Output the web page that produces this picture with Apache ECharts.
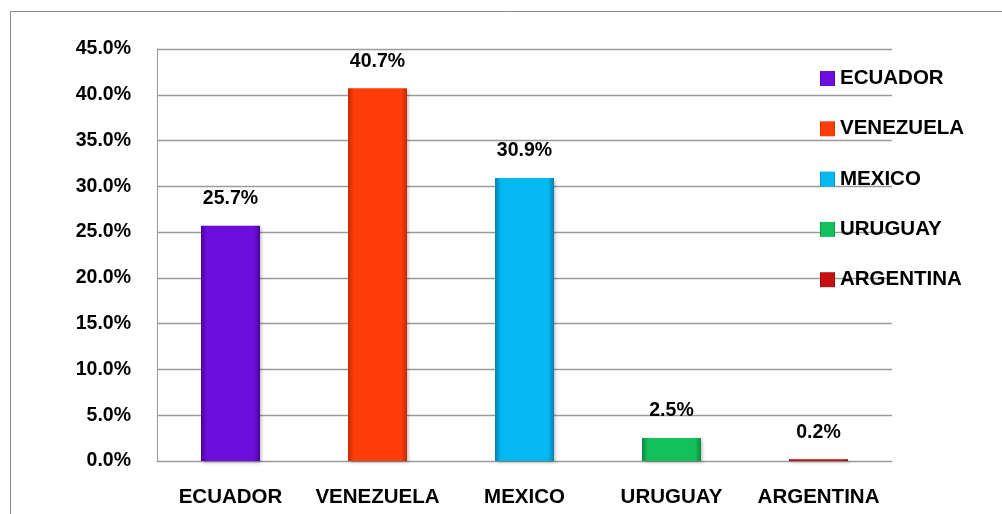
<!DOCTYPE html>
<html>
<head>
<meta charset="utf-8">
<script src="https://cdn.jsdelivr.net/npm/echarts@6/dist/echarts.min.js"></script>
<style>
  html, body { margin: 0; padding: 0; background: #ffffff; }
  #chart { width: 1002px; height: 514px; }
</style>
</head>
<body>
<div id="chart"></div>
<script>
// Share of respondents by country (percent)
const countries = ['ECUADOR', 'VENEZUELA', 'MEXICO', 'URUGUAY', 'ARGENTINA'];
const shares = [25.7, 40.7, 30.9, 2.5, 0.2];
const yTicks = { min: 0, max: 45, step: 5 };

// Base colour and darker edge colour for each country's bar
const barColors = [
  ['#6c0fdc', '#4a0399'],
  ['#ff3d08', '#c42a00'],
  ['#05b8f2', '#0382b0'],
  ['#13c15c', '#0a8a3e'],
  ['#c41010', '#8a0606']
];

function bevel(pair) {
  return new echarts.graphic.LinearGradient(0, 0, 1, 0, [
    { offset: 0, color: pair[1] },
    { offset: 0.1, color: pair[0] },
    { offset: 0.9, color: pair[0] },
    { offset: 1, color: pair[1] }
  ]);
}

const FONT = '"Liberation Sans", Arial, sans-serif';

// One series per country so each gets its own legend entry; stacking keeps bars centred
const series = countries.map((name, i) => ({
  name: name,
  type: 'bar',
  stack: 'all',
  barWidth: 59,
  data: shares.map((v, j) => (j === i ? v : null)),
  itemStyle: {
    color: bevel(barColors[i]),
    shadowColor: 'rgba(0,0,0,0.25)',
    shadowBlur: 3,
    shadowOffsetX: 1.5,
    shadowOffsetY: 1.5
  },
  label: {
    show: true,
    position: 'top',
    distance: 17,
    formatter: p => p.value.toFixed(1) + '%',
    color: '#000',
    fontFamily: FONT,
    fontWeight: 'bold',
    fontSize: 19.5
  }
}));

const chart = echarts.init(document.getElementById('chart'), null, { renderer: 'canvas' });
chart.setOption({
  animation: false,
  backgroundColor: '#ffffff',
  graphic: [{
    type: 'rect',
    shape: { x: 10.5, y: 11.5, width: 1200, height: 800 },
    style: { fill: 'none', stroke: '#8c8c8c', lineWidth: 1 },
    silent: true,
    z: -1
  }],
  grid: { left: 157, top: 49, right: 110, bottom: 53, containLabel: false },
  legend: {
    orient: 'vertical',
    left: 820,
    top: 68,
    padding: 0,
    itemWidth: 15,
    itemHeight: 15,
    itemGap: 29.3,
    icon: 'rect',
    data: countries,
    textStyle: {
      color: '#000',
      fontFamily: FONT,
      fontWeight: 'bold',
      fontSize: 20.5,
      lineHeight: 20
    }
  },
  xAxis: {
    type: 'category',
    data: countries,
    axisTick: { show: false },
    axisLine: { lineStyle: { color: '#9a9a9a', width: 1 } },
    axisLabel: {
      interval: 0,
      margin: 26,
      color: '#000',
      fontFamily: FONT,
      fontWeight: 'bold',
      fontSize: 20.5
    }
  },
  yAxis: {
    type: 'value',
    min: yTicks.min,
    max: yTicks.max,
    interval: yTicks.step,
    axisLine: { show: true, lineStyle: { color: '#9a9a9a', width: 1 } },
    axisTick: { show: false },
    splitLine: { lineStyle: { color: '#9a9a9a', width: 1.3 } },
    axisLabel: {
      margin: 26,
      formatter: v => v.toFixed(1) + '%',
      color: '#000',
      fontFamily: FONT,
      fontWeight: 'bold',
      fontSize: 19.5
    }
  },
  series: series
});
</script>
</body>
</html>
